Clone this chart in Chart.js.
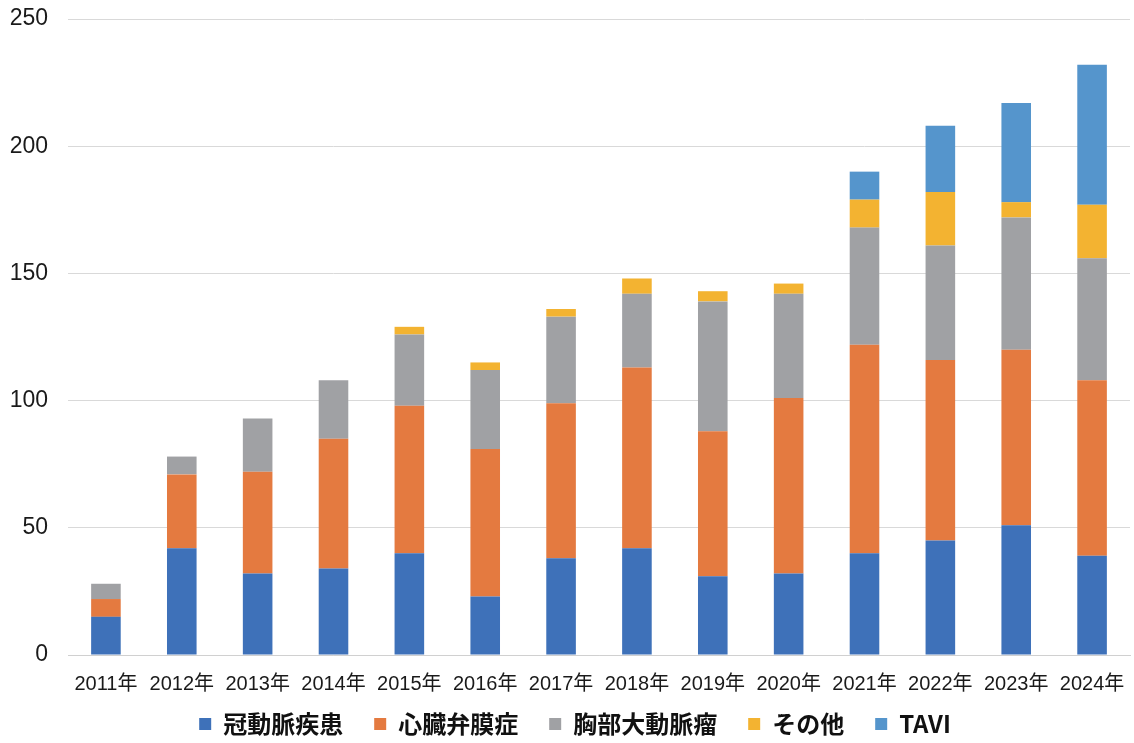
<!DOCTYPE html>
<html>
<head>
<meta charset="utf-8">
<script src="https://cdn.jsdelivr.net/npm/chart.js@4"></script>
<style>
  html, body { margin: 0; padding: 0; background: #fff; }
  #wrap { width: 1134px; height: 743px; }
</style>
</head>
<body>
<div id="wrap"><canvas id="myChart"></canvas></div>
<script>
const years = ['2011年', '2012年', '2013年', '2014年', '2015年', '2016年', '2017年',
               '2018年', '2019年', '2020年', '2021年', '2022年', '2023年', '2024年'];
// 件数（積み上げ）
const coronary = [15, 42, 32, 34, 40, 23, 38, 42, 31, 32, 40, 45, 51, 39];   // 冠動脈疾患
const valve    = [7, 29, 40, 51, 58, 58, 61, 71, 57, 69, 82, 71, 69, 69];    // 心臓弁膜症
const aorta    = [6, 7, 21, 23, 28, 31, 34, 29, 51, 41, 46, 45, 52, 48];     // 胸部大動脈瘤
const other    = [0, 0, 0, 0, 3, 3, 3, 6, 4, 4, 11, 21, 6, 21];              // その他
const tavi     = [0, 0, 0, 0, 0, 0, 0, 0, 0, 0, 11, 26, 39, 55];             // TAVI
const yTicks = [0, 50, 100, 150, 200, 250];

const font = "'Liberation Sans', 'Noto Sans CJK JP', sans-serif";

function ds(label, data, color) {
    return {
        label: label,
        data: data,
        backgroundColor: color,
        borderWidth: 0,
        categoryPercentage: 1.0,
        barPercentage: 0.39
    };
}

// 凡例の高さと位置を調整する
const legendPlace = {
    id: 'legendPlace',
    beforeLayout(chart) {
        const lg = chart.legend;
        if (lg && !lg._patched) {
            const fit = lg.fit;
            lg.fit = function () { fit.call(this); this.height = 38; };
            lg._patched = true;
        }
    },
    afterLayout(chart) {
        const lg = chart.legend;
        lg.top -= 24;
        lg.left += 10; lg.right += 10;
    }
};

const ctx = document.getElementById('myChart').getContext('2d');
const myChart = new Chart(ctx, {
    type: 'bar',
    data: {
        labels: years,
        datasets: [
            ds('冠動脈疾患', coronary, '#3e71b9'),
            ds('心臓弁膜症', valve, '#e47a40'),
            ds('胸部大動脈瘤', aorta, '#a0a1a4'),
            ds('その他', other, '#f3b331'),
            ds('TAVI', tavi, '#5595cc')
        ]
    },
    plugins: [legendPlace],
    options: {
        responsive: true,
        maintainAspectRatio: false,
        animation: false,
        layout: { padding: { top: 19, right: 4, left: 0, bottom: 0 } },
        plugins: {
            tooltip: { enabled: false },
            legend: {
                position: 'bottom',
                labels: {
                    color: '#111',
                    boxWidth: 12,
                    boxHeight: 12,
                    padding: 31,
                    font: { family: "'Noto Sans CJK JP', sans-serif", size: 24, weight: 'bold' }
                }
            }
        },
        scales: {
            x: {
                stacked: true,
                afterFit: axis => { axis.height = 50; axis.paddingLeft = 0; axis.paddingRight = 0; },
                grid: { display: false, drawTicks: false },
                border: { display: true, color: '#d0d0d0', width: 1 },
                ticks: {
                    color: '#1a1a1a',
                    maxRotation: 0,
                    autoSkip: false,
                    padding: 17,
                    font: { family: font, size: 20 }
                }
            },
            y: {
                stacked: true,
                min: 0,
                max: 250,
                afterBuildTicks: axis => { axis.ticks = yTicks.map(v => ({ value: v })); },
                afterFit: axis => { axis.width = 68; axis.paddingTop = 0; axis.paddingBottom = 0; },
                grid: { color: '#d9d9d9', lineWidth: 1, drawTicks: false },
                border: { display: false },
                ticks: {
                    color: '#1a1a1a',
                    padding: 20,
                    font: { family: font, size: 23 }
                }
            }
        }
    }
});
</script>
</body>
</html>
